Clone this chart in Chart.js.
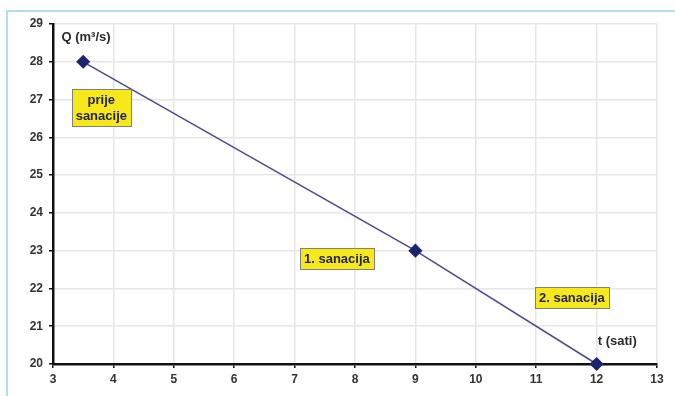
<!DOCTYPE html>
<html><head><meta charset="utf-8">
<script src="https://cdn.jsdelivr.net/npm/chart.js@4.4.0/dist/chart.umd.min.js"></script>
<style>
html,body{margin:0;padding:0;background:#fff;}
#wrap{position:relative;width:675px;height:396px;overflow:hidden;}
#frame{position:absolute;left:6px;top:10px;width:700px;height:400px;border-top:2px solid #b4dfe3;border-left:2px solid #b4dfe3;}
canvas{position:absolute;left:0;top:0;}
</style></head>
<body>
<div id="wrap"><div id="frame"></div><canvas id="c" width="675" height="396"></canvas></div>
<script>
const timeHours = [3.5, 9, 12];
const flowQ = [28, 23, 20];
const xTicks = [3,4,5,6,7,8,9,10,11,12,13];
const yTicks = [20,21,22,23,24,25,26,27,28,29];
const boxLabels = [
  {lines:["prije","sanacije"], x:3.80, y:26.78},
  {lines:["1. sanacija"], x:7.70, y:22.8},
  {lines:["2. sanacija"], x:11.59, y:21.77}
];
const axisTitles = [
  {text:"Q (m³/s)", x:3.14, y:28.65},
  {text:"t (sati)", x:12.02, y:20.61}
];
const FONT = 'bold 13px "Liberation Sans", Arial, sans-serif';
const labelPlugin = {
  id:'labels',
  afterDatasetsDraw(chart){
    const ctx = chart.ctx, xs = chart.scales.x, ys = chart.scales.y;
    ctx.save();
    ctx.font = FONT;
    ctx.textBaseline = 'middle';
    axisTitles.forEach(t=>{
      ctx.fillStyle = '#2a2a2a';
      ctx.textAlign = 'left';
      ctx.fillText(t.text, xs.getPixelForValue(t.x), ys.getPixelForValue(t.y));
    });
    boxLabels.forEach(b=>{
      const cx = xs.getPixelForValue(b.x), cy = ys.getPixelForValue(b.y);
      const lh = 16;
      let w = 0; b.lines.forEach(l=>{w=Math.max(w, ctx.measureText(l).width);});
      const bw = w + 8, bh = b.lines.length*lh + 5;
      const x0 = Math.round(cx-bw/2)+0.5, y0 = Math.round(cy-bh/2)+0.5;
      ctx.fillStyle = '#f7e81a';
      ctx.fillRect(x0, y0, Math.round(bw), Math.round(bh));
      ctx.strokeStyle = '#808080';
      ctx.lineWidth = 1;
      ctx.strokeRect(x0, y0, Math.round(bw), Math.round(bh));
      ctx.fillStyle = '#25255a';
      ctx.textAlign = 'center';
      b.lines.forEach((l,i)=>{
        ctx.fillText(l, cx, cy - (b.lines.length-1)*lh/2 + i*lh + 1);
      });
    });
    ctx.restore();
  }
};
new Chart(document.getElementById('c'), {
  type:'scatter',
  data:{datasets:[{
    data: timeHours.map((t,i)=>({x:t, y:flowQ[i]})),
    showLine:true,
    borderColor:'#4b4b8c',
    borderWidth:1.5,
    pointStyle:'rectRot',
    pointRadius:6,
    pointBackgroundColor:'#1b2470',
    pointBorderColor:'#1b2470',
    clip:false
  }]},
  options:{
    responsive:false,
    animation:false,
    layout:{padding:{top:24,right:18,left:0,bottom:0}},
    plugins:{legend:{display:false},tooltip:{enabled:false}},
    scales:{
      x:{
        type:'linear', min:3, max:13,
        afterBuildTicks(s){ s.ticks = xTicks.map(v=>({value:v})); },
        afterFit(s){ s.height = 32; },
        grid:{color:'#e6e6e6', lineWidth:1.5, tickColor:'#111', tickLength:4},
        border:{color:'#111', width:2.5},
        ticks:{color:'#333', font:{family:'"Liberation Sans", Arial', size:12, weight:'bold'}, padding:4}
      },
      y:{
        type:'linear', min:20, max:29,
        afterBuildTicks(s){ s.ticks = yTicks.map(v=>({value:v})); },
        afterFit(s){ s.width = 53; },
        grid:{color:'#e6e6e6', lineWidth:1.5, tickColor:'#111', tickLength:4},
        border:{color:'#111', width:2.5},
        ticks:{color:'#333', font:{family:'"Liberation Sans", Arial', size:12, weight:'bold'}, padding:6}
      }
    }
  },
  plugins:[labelPlugin]
});
</script>
</body></html>
